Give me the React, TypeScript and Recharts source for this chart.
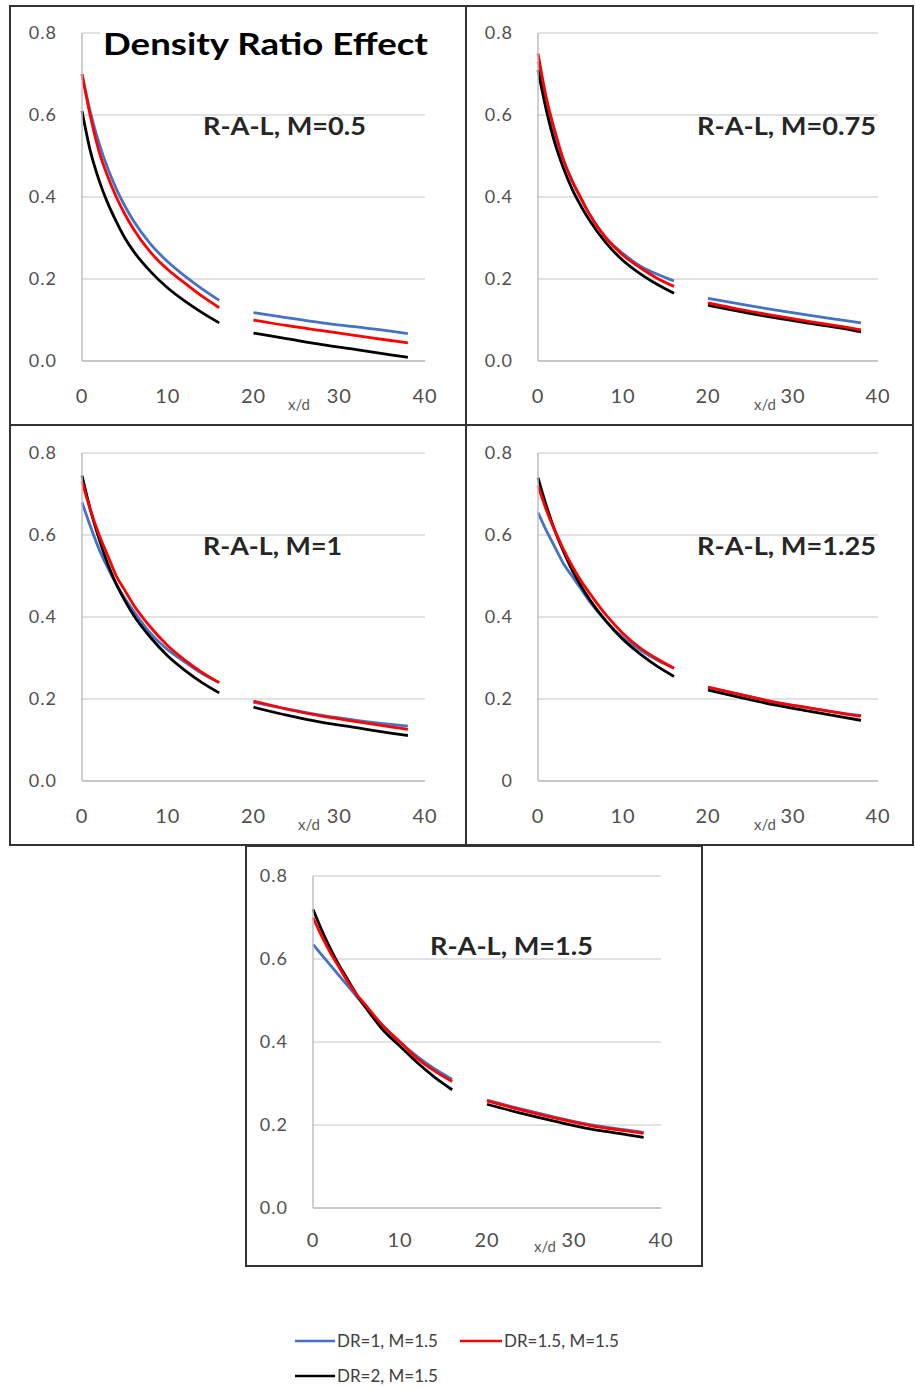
import React from "react";
import { LineChart, Line, XAxis, YAxis, CartesianGrid } from "recharts";

const X_NEAR = [0, 1, 2, 3, 4, 5, 6, 8, 10, 12, 14, 16];
const X_FAR = [20, 24, 28, 32, 36, 38];
const X_GAP = 18;
const X_TICKS = [0, 10, 20, 30, 40];
const Y_TICKS = [0, 0.2, 0.4, 0.6, 0.8];

const SERIES_NAMES = ["DR=1, M=1.5", "DR=1.5, M=1.5", "DR=2, M=1.5"];
const PANEL_TITLES = ["R-A-L, M=0.5", "R-A-L, M=0.75", "R-A-L, M=1", "R-A-L, M=1.25", "R-A-L, M=1.5"];
const MAIN_TITLE = "Density Ratio Effect";
const X_TITLE = "x/d";

// M = 0.5
const M050_DR1 = [0.70, 0.605, 0.53, 0.47, 0.42, 0.378, 0.342, 0.285, 0.242, 0.207, 0.176, 0.148, 0.118, 0.105, 0.093, 0.083, 0.073, 0.067];
const M050_DR15 = [0.70, 0.595, 0.51, 0.45, 0.40, 0.358, 0.322, 0.265, 0.223, 0.19, 0.158, 0.13, 0.10, 0.086, 0.074, 0.062, 0.05, 0.044];
const M050_DR2 = [0.61, 0.51, 0.44, 0.385, 0.34, 0.30, 0.268, 0.218, 0.178, 0.146, 0.118, 0.093, 0.068, 0.054, 0.04, 0.028, 0.015, 0.009];

// M = 0.75
const M075_DR1 = [0.73, 0.63, 0.55, 0.49, 0.44, 0.397, 0.36, 0.30, 0.262, 0.232, 0.212, 0.195, 0.153, 0.138, 0.124, 0.111, 0.099, 0.093];
const M075_DR15 = [0.75, 0.64, 0.56, 0.49, 0.44, 0.40, 0.36, 0.30, 0.258, 0.228, 0.202, 0.182, 0.142, 0.125, 0.11, 0.096, 0.083, 0.076];
const M075_DR2 = [0.71, 0.61, 0.53, 0.47, 0.42, 0.38, 0.345, 0.288, 0.245, 0.213, 0.187, 0.165, 0.136, 0.12, 0.105, 0.092, 0.079, 0.071];

// M = 1
const M100_DR1 = [0.68, 0.62, 0.565, 0.52, 0.48, 0.445, 0.415, 0.36, 0.32, 0.29, 0.262, 0.24, 0.192, 0.175, 0.16, 0.148, 0.138, 0.134];
const M100_DR15 = [0.73, 0.66, 0.60, 0.55, 0.50, 0.465, 0.43, 0.375, 0.33, 0.295, 0.265, 0.24, 0.195, 0.175, 0.158, 0.145, 0.132, 0.126];
const M100_DR2 = [0.745, 0.66, 0.59, 0.53, 0.48, 0.44, 0.405, 0.35, 0.305, 0.27, 0.24, 0.215, 0.18, 0.16, 0.143, 0.13, 0.117, 0.111];

// M = 1.25
const M125_DR1 = [0.655, 0.61, 0.57, 0.53, 0.50, 0.47, 0.44, 0.39, 0.35, 0.32, 0.295, 0.275, 0.228, 0.21, 0.192, 0.178, 0.165, 0.16];
const M125_DR15 = [0.72, 0.66, 0.61, 0.565, 0.525, 0.49, 0.46, 0.405, 0.36, 0.325, 0.298, 0.275, 0.229, 0.21, 0.192, 0.178, 0.164, 0.158];
const M125_DR2 = [0.74, 0.67, 0.61, 0.56, 0.515, 0.478, 0.445, 0.39, 0.345, 0.31, 0.28, 0.255, 0.222, 0.203, 0.185, 0.17, 0.155, 0.148];

// M = 1.5
const M150_DR1 = [0.635, 0.61, 0.585, 0.56, 0.535, 0.51, 0.485, 0.44, 0.40, 0.365, 0.335, 0.31, 0.26, 0.238, 0.218, 0.20, 0.188, 0.182];
const M150_DR15 = [0.70, 0.655, 0.615, 0.58, 0.545, 0.515, 0.49, 0.44, 0.40, 0.36, 0.33, 0.305, 0.258, 0.236, 0.216, 0.198, 0.186, 0.18];
const M150_DR2 = [0.72, 0.67, 0.625, 0.585, 0.55, 0.515, 0.485, 0.43, 0.39, 0.35, 0.315, 0.285, 0.25, 0.228, 0.208, 0.19, 0.177, 0.17];

const COLORS = ["#4472C4", "#FF0000", "#000000"];

function buildRows(dr1: number[], dr15: number[], dr2: number[]) {
  const near = X_NEAR.map((x, i) => ({ x, dr1: dr1[i], dr15: dr15[i], dr2: dr2[i] }));
  const gap = { x: X_GAP, dr1: null, dr15: null, dr2: null };
  const far = X_FAR.map((x, i) => {
    const j = i + X_NEAR.length;
    return { x, dr1: dr1[j], dr15: dr15[j], dr2: dr2[j] };
  });
  return [...near, gap, ...far];
}

// box: left, top, width, height ; plot: left, top, width, height
const PANELS = [
  { rows: buildRows(M050_DR1, M050_DR15, M050_DR2), box: [9, 5, 458, 421], plot: [82, 33, 343, 328], label: [203, 135, 163], xd: [299, 410], tm: 22 },
  { rows: buildRows(M075_DR1, M075_DR15, M075_DR2), box: [465, 5, 449, 421], plot: [538, 33, 340, 328], label: [697, 135, 179], xd: [765, 410], tm: 22 },
  { rows: buildRows(M100_DR1, M100_DR15, M100_DR2), box: [9, 424, 458, 422], plot: [82, 453, 343, 328], label: [203, 555, 139], xd: [309, 830], tm: 22 },
  { rows: buildRows(M125_DR1, M125_DR15, M125_DR2), box: [465, 424, 449, 422], plot: [538, 453, 340, 328], label: [697, 555, 179], xd: [765, 830], tm: 22, zero: true },
  { rows: buildRows(M150_DR1, M150_DR15, M150_DR2), box: [245, 845, 458, 422], plot: [313, 876, 348, 332], label: [430, 955, 163], xd: [545, 1252], tm: 19 },
];

const tickFont = { fill: "#505050", fontFamily: "Lato, sans-serif" };

function Panel({ p }: { p: any }) {
  const [px, py, pw, ph] = p.plot;
  return (
    <div style={{ position: "absolute", left: px - 72, top: py - 27 }}>
      <LineChart width={pw + 92} height={ph + 91} data={p.rows} margin={{ top: 27, right: 20, left: 22, bottom: 34 }}>
        <CartesianGrid vertical={false} stroke="#d9d9d9" strokeWidth={1.5} />
        <XAxis
          dataKey="x"
          type="number"
          domain={[0, 40]}
          ticks={X_TICKS}
          height={30}
          tickLine={false}
          axisLine={{ stroke: "#bfbfbf", strokeWidth: 1.5 }}
          tickMargin={p.tm}
          tick={{ ...tickFont, fontSize: 20, letterSpacing: 1 }}
        />
        <YAxis
          type="number"
          domain={[0, 0.8]}
          ticks={Y_TICKS}
          width={50}
          tickLine={false}
          axisLine={{ stroke: "#bfbfbf", strokeWidth: 1.5 }}
          tickMargin={19}
          tick={{ ...tickFont, fontSize: 18, letterSpacing: 1 }}
          tickFormatter={(v: number) => (p.zero && v === 0 ? "0" : v.toFixed(1))}
        />
        <Line type="monotone" dataKey="dr1" name={SERIES_NAMES[0]} stroke={COLORS[0]} strokeWidth={2.8} dot={false} isAnimationActive={false} />
        <Line type="monotone" dataKey="dr2" name={SERIES_NAMES[2]} stroke={COLORS[2]} strokeWidth={2.8} dot={false} isAnimationActive={false} />
        <Line type="monotone" dataKey="dr15" name={SERIES_NAMES[1]} stroke={COLORS[1]} strokeWidth={2.8} dot={false} isAnimationActive={false} />
      </LineChart>
    </div>
  );
}

export default function App() {
  return (
    <div style={{ position: "absolute", left: 0, top: 0, width: 915, height: 1388, background: "#fff", fontFamily: "Lato, sans-serif" }}>
      {PANELS.map((p, i) => (
        <div
          key={"box" + i}
          style={{ position: "absolute", left: p.box[0], top: p.box[1], width: p.box[2], height: p.box[3], border: "2px solid #333", boxSizing: "border-box" }}
        />
      ))}
      {PANELS.map((p, i) => (
        <Panel key={"panel" + i} p={p} />
      ))}
      <svg width={915} height={1388} style={{ position: "absolute", left: 0, top: 0, pointerEvents: "none" }}>
        <rect x={100} y={20} width={332} height={42} fill="#fff" />
        <text x={103} y={55} fontSize={30} fontWeight={700} fill="#000" fontFamily="Lato, sans-serif" textLength={325} lengthAdjust="spacingAndGlyphs">
          {MAIN_TITLE}
        </text>
        {PANELS.map((p, i) => (
          <text key={"t" + i} x={p.label[0]} y={p.label[1]} fontSize={25} fontWeight={700} fill="#262626" fontFamily="Lato, sans-serif" textLength={p.label[2]} lengthAdjust="spacingAndGlyphs">
            {PANEL_TITLES[i]}
          </text>
        ))}
        {PANELS.map((p, i) => (
          <text key={"xd" + i} x={p.xd[0]} y={p.xd[1]} fontSize={15} fill="#595959" textAnchor="middle" fontFamily="Lato, sans-serif">
            {X_TITLE}
          </text>
        ))}
        <line x1={295} x2={335} y1={1341} y2={1341} stroke={COLORS[0]} strokeWidth={2.5} />
        <text x={337} y={1347} fontSize={17} fill="#404040" fontFamily="Lato, sans-serif">{SERIES_NAMES[0]}</text>
        <line x1={460} x2={502} y1={1341} y2={1341} stroke={COLORS[1]} strokeWidth={2.5} />
        <text x={504} y={1347} fontSize={17} fill="#404040" fontFamily="Lato, sans-serif">{SERIES_NAMES[1]}</text>
        <line x1={295} x2={335} y1={1376} y2={1376} stroke={COLORS[2]} strokeWidth={2.5} />
        <text x={337} y={1382} fontSize={17} fill="#404040" fontFamily="Lato, sans-serif">{SERIES_NAMES[2]}</text>
      </svg>
    </div>
  );
}
